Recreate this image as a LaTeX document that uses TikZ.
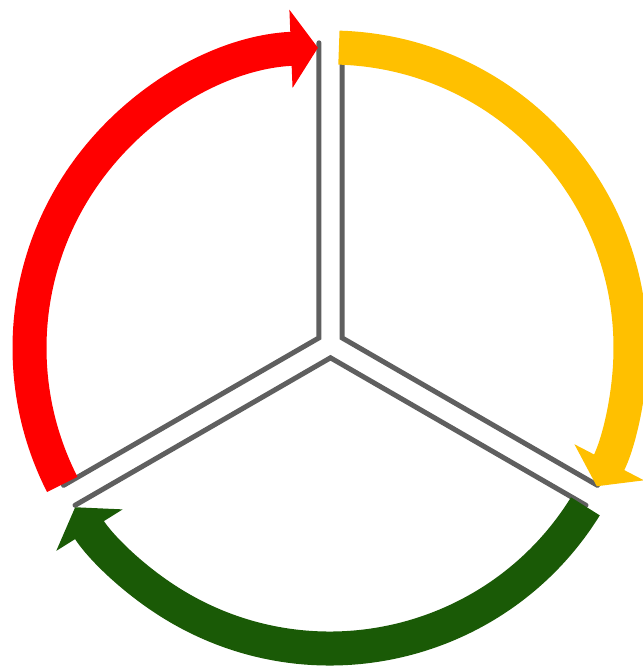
\documentclass[tikz,border=0pt]{standalone}
\usepackage{tikz}
\usetikzlibrary{arrows.meta,calc}
\definecolor{cyRed}   {RGB}{255,  0,  0}
\definecolor{cyYellow}{RGB}{255,192,  0}
\definecolor{cyGreen} {RGB}{ 26, 90,  6}
\definecolor{cyGrey}  {RGB}{ 95, 95, 95}

\begin{document}
\begin{tikzpicture}[
  x=0.5pt,y=0.5pt,
  ring/.style={line width=17pt,-{Triangle[length=13.5pt,width=38.5pt]}},
  divider/.style={draw=cyGrey,line width=2.5pt,line cap=round,line join=miter}
]
\useasboundingbox (0,0) rectangle (642,668);
\coordinate (ctr) at (330,320);
\coordinate (hub) at (330.5,323.5);

% sector outlines
\foreach \mid/\a/\b in {150/90/210,30/90/330,270/210/330}{
  \coordinate (k) at ($(hub)+(\mid:13.3)$);
  \draw[divider] ($(k)+(\a:295)$) -- (k) -- ($(k)+(\b:295)$);
}

% cycle arcs
\draw[ring,cyRed]    ($(ctr)+(207:300.5)$)   arc[start angle=207,end angle=92.3,radius=300.5];
\draw[ring,cyYellow] ($(ctr)+(88.3:300.5)$)  arc[start angle=88.3,end angle=-27.4,radius=300.5];
\draw[ring,cyGreen]  ($(ctr)+(-31.8:300.5)$) arc[start angle=-31.8,end angle=-148,radius=300.5];
\end{tikzpicture}
\end{document}
